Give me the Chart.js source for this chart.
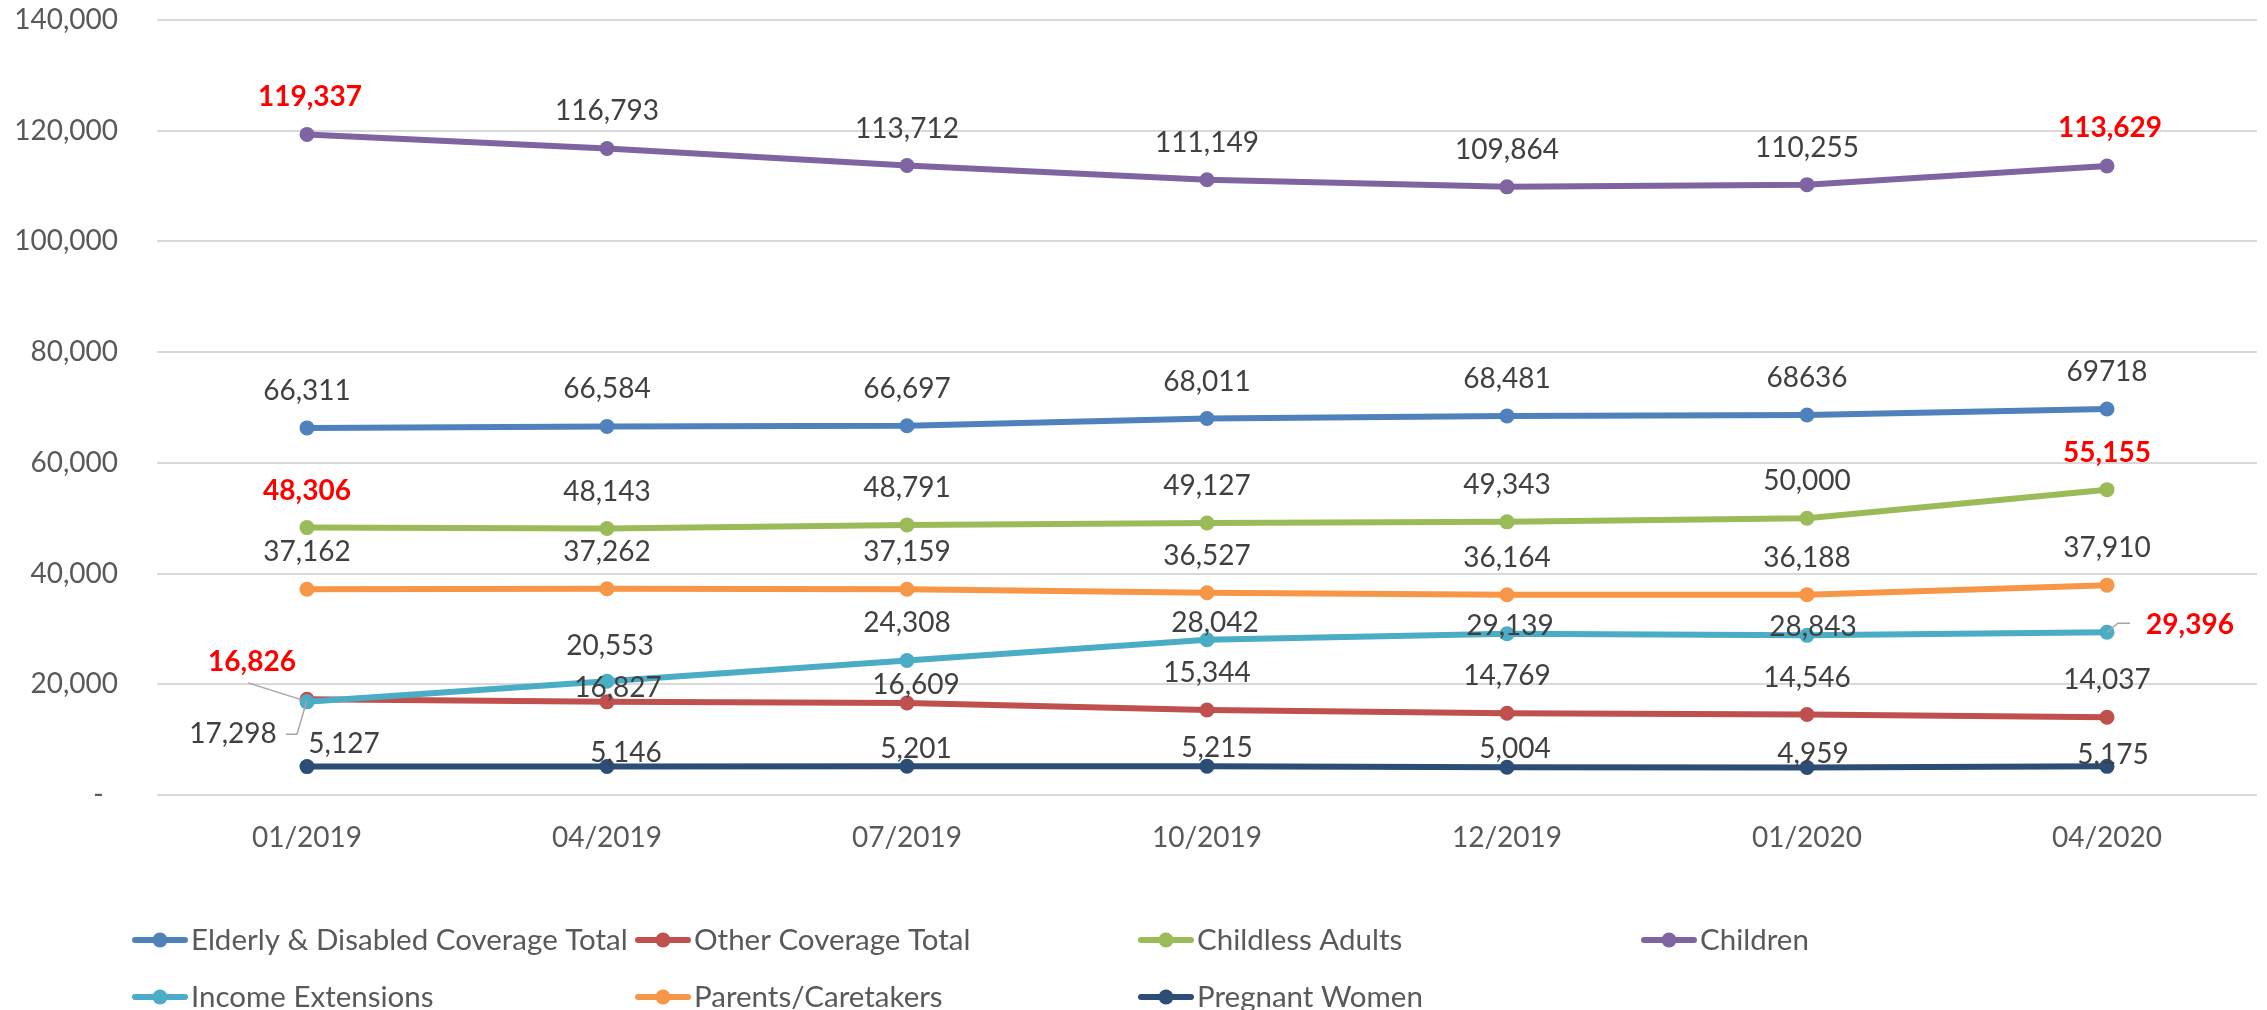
<!DOCTYPE html>
<html><head><meta charset="utf-8">
<script src="https://cdn.jsdelivr.net/npm/chart.js@4/dist/chart.umd.min.js"></script>
<style>html,body{margin:0;padding:0;background:#fff;overflow:hidden}#wrap{width:2267px;height:1010px;position:relative}</style>
</head><body><div id="wrap"><canvas id="c"></canvas></div>
<script>
// ---- data ----
const categories = ['01/2019','04/2019','07/2019','10/2019','12/2019','01/2020','04/2020'];
const seriesNames = ['Elderly & Disabled Coverage Total','Other Coverage Total','Childless Adults','Children','Income Extensions','Parents/Caretakers','Pregnant Women'];
const elderlyDisabled   = [66311, 66584, 66697, 68011, 68481, 68636, 69718];
const otherCoverage     = [17298, 16827, 16609, 15344, 14769, 14546, 14037];
const childlessAdults   = [48306, 48143, 48791, 49127, 49343, 50000, 55155];
const children          = [119337, 116793, 113712, 111149, 109864, 110255, 113629];
const incomeExtensions  = [16826, 20553, 24308, 28042, 29139, 28843, 29396];
const parentsCaretakers = [37162, 37262, 37159, 36527, 36164, 36188, 37910];
const pregnantWomen     = [5127, 5146, 5201, 5215, 5004, 4959, 5175];
const yTickValues = [0, 20000, 40000, 60000, 80000, 100000, 120000, 140000];

// ---- styles ----
const colors = ['#4F81BD','#C0504D','#9BBB59','#8064A2','#4BACC6','#F79646','#2C4D75'];
const FONT = 'Lato';
const highlight = {2:[0,6], 3:[0,6], 4:[0,6]};         // red bold labels
const plainNumber = {0:[5,6]};                          // labels without thousands separator
const labelAdjust = {                                   // [dx, dy] from point, default [0,-37]
  0: {},
  1: {0:[-74,35], 1:[11,-14], 2:[9,-18]},
  2: {},
  3: {0:[3,-37], 6:[3,-38]},
  4: {0:[-55,-40], 1:[3,-35], 3:[8,-17], 4:[3,-8], 5:[6,-8], 6:[83,-7]},
  5: {},
  6: {0:[37,-23], 1:[19,-14], 2:[9,-17], 3:[10,-18], 4:[8,-18], 5:[6,-14], 6:[6,-11]}
};
const leaders = {                                       // leader lines relative to point
  '1_0': [[-21,35],[-10,35],[0,1]],
  '4_0': [[-59,-19],[-5,-2]],
  '4_6': [[0,0],[11,-9],[23,-9]]
};

const allSeries = [elderlyDisabled, otherCoverage, childlessAdults, children, incomeExtensions, parentsCaretakers, pregnantWomen];

const labelPlugin = {
  id: 'valueLabels',
  afterDatasetsDraw(chart) {
    const ctx = chart.ctx;
    ctx.save();
    chart.data.datasets.forEach((ds, di) => {
      const meta = chart.getDatasetMeta(di);
      meta.data.forEach((pt, pi) => {
        const key = di + '_' + pi;
        if (leaders[key]) {
          ctx.strokeStyle = '#A6A6A6'; ctx.lineWidth = 1.5;
          ctx.beginPath();
          leaders[key].forEach((p, k) => { const X = pt.x + p[0], Y = pt.y + p[1]; k ? ctx.lineTo(X, Y) : ctx.moveTo(X, Y); });
          ctx.stroke();
        }
        const v = ds.data[pi];
        const plain = (plainNumber[di] || []).includes(pi);
        const txt = plain ? String(v) : v.toLocaleString('en-US');
        const hi = (highlight[di] || []).includes(pi);
        const adj = (labelAdjust[di] && labelAdjust[di][pi]) || [0, -37];
        ctx.font = (hi ? 'bold ' : '') + '28px ' + FONT;
        ctx.fillStyle = hi ? '#FF0000' : '#404040';
        ctx.textAlign = 'center'; ctx.textBaseline = 'middle';
        ctx.fillText(txt, pt.x + adj[0], pt.y + adj[1]);
      });
    });
    ctx.restore();
  }
};

const legendPlugin = {
  id: 'gridLegend',
  afterDraw(chart) {
    const ctx = chart.ctx;
    ctx.save();
    chart.data.datasets.forEach((ds, i) => {
      const col = i % 4, row = Math.floor(i / 4);
      const x0 = 132 + col * 503;
      const y0 = 940 + row * 57;
      ctx.strokeStyle = ds.borderColor; ctx.lineWidth = 6; ctx.lineCap = 'round';
      ctx.beginPath(); ctx.moveTo(x0 + 3, y0); ctx.lineTo(x0 + 53, y0); ctx.stroke();
      ctx.fillStyle = ds.borderColor;
      ctx.beginPath(); ctx.arc(x0 + 28, y0, 7.5, 0, Math.PI * 2); ctx.fill();
      ctx.font = '29.5px ' + FONT; ctx.fillStyle = '#595959';
      ctx.textAlign = 'left'; ctx.textBaseline = 'middle';
      ctx.fillText(ds.label, x0 + 59, y0);
    });
    ctx.restore();
  }
};

function build() {
  const canvas = document.getElementById('c');
  new Chart(canvas, {
    type: 'line',
    data: {
      labels: categories,
      datasets: allSeries.map((arr, i) => ({
        label: seriesNames[i],
        data: arr,
        borderColor: colors[i],
        backgroundColor: colors[i],
        pointBackgroundColor: colors[i],
        pointBorderColor: colors[i],
        pointBorderWidth: 0,
        pointRadius: 7.5,
        borderWidth: 6,
        tension: 0,
        fill: false,
        order: -i
      }))
    },
    options: {
      responsive: false,
      animation: false,
      devicePixelRatio: 1,
      layout: { padding: { top: 20, right: 10, left: 0, bottom: 0 } },
      plugins: { legend: { display: false }, tooltip: { enabled: false } },
      scales: {
        x: {
          type: 'category',
          offset: true,
          grid: { display: false, drawTicks: false },
          border: { display: false },
          ticks: { color: '#595959', font: { family: FONT, size: 28 }, padding: 26, maxRotation: 0 },
          afterFit(s) { s.height = 215; s.paddingLeft = 0; s.paddingRight = 0; }
        },
        y: {
          min: 0, max: 140000,
          afterBuildTicks(s) { s.ticks = yTickValues.map(v => ({ value: v })); },
          grid: { color: '#D9D9D9', lineWidth: 2, drawTicks: false },
          border: { display: false },
          ticks: {
            color: '#595959', font: { family: FONT, size: 28 }, padding: 39,
            callback: v => v === 0 ? '-  ' : Number(v).toLocaleString('en-US')
          },
          afterFit(s) { s.width = 157; s.paddingTop = 0; s.paddingBottom = 0; }
        }
      }
    },
    plugins: [labelPlugin, legendPlugin]
  });
}
const c = document.getElementById('c');
c.width = 2267; c.height = 1010;
c.style.width = '2267px'; c.style.height = '1010px';
if (document.fonts && document.fonts.load) {
  Promise.all([document.fonts.load('28px Lato'), document.fonts.load('bold 28px Lato')]).then(build, build);
} else build();
</script>
</body></html>
